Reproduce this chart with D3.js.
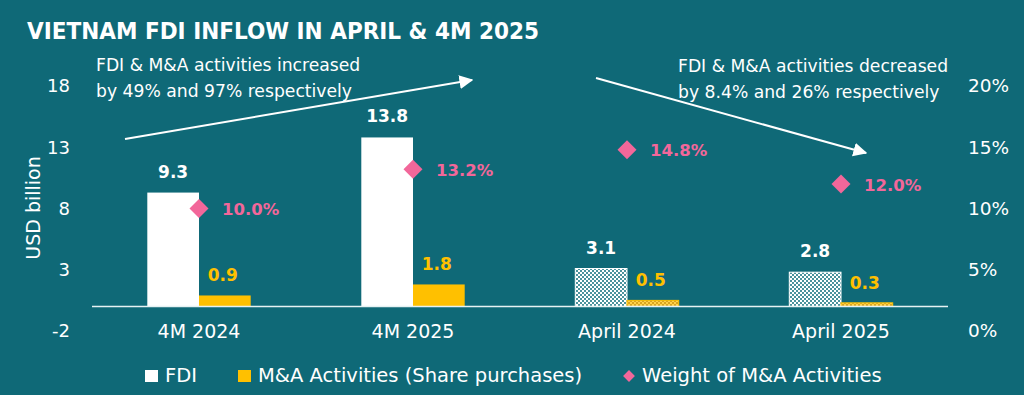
<!DOCTYPE html>
<html>
<head>
<meta charset="utf-8">
<script src="https://cdn.jsdelivr.net/npm/d3@7"></script>
<style>
  html, body { margin: 0; padding: 0; background: #0f6977; }
  svg { display: block; font-family: 'DejaVu Sans', sans-serif; }
</style>
</head>
<body>
<div id="chart"></div>
<script>
// chart data
const categories = ['4M 2024', '4M 2025', 'April 2024', 'April 2025'];
const fdiValues = [9.3, 13.8, 3.1, 2.8];
const maValues = [0.9, 1.8, 0.5, 0.3];
const weightValues = [0.100, 0.132, 0.148, 0.120];
const hatched = [false, false, true, true]; // April bars are drawn with a pattern
const leftTicks = [-2, 3, 8, 13, 18];
const rightTicks = [0, 0.05, 0.10, 0.15, 0.20];

const width = 1024;
const height = 395;
const bg = '#0f6977';
const yellow = '#ffc000';
const pink = '#f2679a';

const svg = d3.select('#chart').append('svg')
  .attr('width', width)
  .attr('height', height);

svg.append('rect').attr('width', width).attr('height', height).attr('fill', bg);

// patterns for the April bars
const defs = svg.append('defs');
function checker(id, base, dot) {
  const p = defs.append('pattern')
    .attr('id', id)
    .attr('width', 4).attr('height', 4)
    .attr('patternUnits', 'userSpaceOnUse');
  p.append('rect').attr('width', 4).attr('height', 4).attr('fill', base);
  p.append('rect').attr('width', 2).attr('height', 2).attr('fill', dot);
  p.append('rect').attr('x', 2).attr('y', 2).attr('width', 2).attr('height', 2).attr('fill', dot);
}
checker('fdiHatch', '#4a929c', '#ffffff');
checker('maHatch', '#d9a520', '#ffd24a');

// scales
const x = d3.scaleBand().domain(categories).range([92, 948]);
const y = d3.scaleLinear().domain([-2, 18]).range([331, 86]);
const yRight = d3.scaleLinear().domain([0, 0.20]).range([331, 86]);
const barW = 51.7;

// title
svg.append('text')
  .attr('x', 27).attr('y', 38.5)
  .attr('fill', '#fff')
  .attr('font-size', 23)
  .attr('font-weight', 'bold')
  .attr('textLength', 512)
  .attr('lengthAdjust', 'spacingAndGlyphs')
  .text('VIETNAM FDI INFLOW IN APRIL & 4M 2025');

// left axis
const leftAxis = svg.append('g')
  .attr('transform', 'translate(70,0)')
  .call(d3.axisLeft(y).tickValues(leftTicks).tickSize(0).tickPadding(0).tickFormat((d) => String(d)));
leftAxis.select('.domain').remove();
leftAxis.selectAll('text')
  .attr('fill', '#fff').attr('font-size', 18).attr('font-family', 'DejaVu Sans, sans-serif');

// right axis
const rightAxis = svg.append('g')
  .attr('transform', 'translate(968,0)')
  .call(d3.axisRight(yRight).tickValues(rightTicks).tickSize(0).tickPadding(0).tickFormat(d3.format('.0%')));
rightAxis.select('.domain').remove();
rightAxis.selectAll('text')
  .attr('fill', '#fff').attr('font-size', 18.5).attr('font-family', 'DejaVu Sans, sans-serif');

// y axis title
svg.append('text')
  .attr('transform', 'translate(40,208) rotate(-90)')
  .attr('text-anchor', 'middle')
  .attr('fill', '#fff')
  .attr('font-size', 19)
  .text('USD billion');

// FDI bars
svg.append('g').selectAll('rect')
  .data(fdiValues)
  .join('rect')
  .attr('x', (d, i) => x(categories[i]) + x.bandwidth() / 2 - barW)
  .attr('y', (d) => y(d))
  .attr('width', barW)
  .attr('height', (d) => y(0) - y(d))
  .attr('fill', (d, i) => (hatched[i] ? 'url(#fdiHatch)' : '#fff'))
  .attr('stroke', (d, i) => (hatched[i] ? '#fff' : 'none'))
  .attr('stroke-width', 1);

// M&A bars
svg.append('g').selectAll('rect')
  .data(maValues)
  .join('rect')
  .attr('x', (d, i) => x(categories[i]) + x.bandwidth() / 2)
  .attr('y', (d) => y(d))
  .attr('width', barW)
  .attr('height', (d) => y(0) - y(d))
  .attr('fill', (d, i) => (hatched[i] ? 'url(#maHatch)' : yellow))
  .attr('stroke', (d, i) => (hatched[i] ? yellow : 'none'))
  .attr('stroke-width', 1);

// baseline
svg.append('line')
  .attr('x1', 92).attr('x2', 948)
  .attr('y1', y(0)).attr('y2', y(0))
  .attr('stroke', '#e6f2f3')
  .attr('stroke-width', 1.5);

// value labels
svg.append('g').selectAll('text')
  .data(fdiValues)
  .join('text')
  .attr('x', (d, i) => x(categories[i]) + x.bandwidth() / 2 - barW / 2)
  .attr('y', (d) => y(d) - 15)
  .attr('text-anchor', 'middle')
  .attr('fill', '#fff')
  .attr('font-size', 17)
  .attr('font-weight', 'bold')
  .text((d) => d.toFixed(1));

svg.append('g').selectAll('text')
  .data(maValues)
  .join('text')
  .attr('x', (d, i) => x(categories[i]) + x.bandwidth() / 2 + barW / 2 - 2)
  .attr('y', (d) => y(d) - 14)
  .attr('text-anchor', 'middle')
  .attr('fill', yellow)
  .attr('font-size', 17)
  .attr('font-weight', 'bold')
  .text((d) => d.toFixed(1));

// weight markers
const diamond = d3.symbol().type(d3.symbolSquare).size(180);
svg.append('g').selectAll('path')
  .data(weightValues)
  .join('path')
  .attr('d', diamond)
  .attr('transform', (d, i) => `translate(${x(categories[i]) + x.bandwidth() / 2},${yRight(d)}) rotate(45)`)
  .attr('fill', pink);

svg.append('g').selectAll('text')
  .data(weightValues)
  .join('text')
  .attr('x', (d, i) => x(categories[i]) + x.bandwidth() / 2 + 23)
  .attr('y', (d) => yRight(d) + 6.5)
  .attr('fill', pink)
  .attr('font-size', 16.5)
  .attr('font-weight', 'bold')
  .text((d) => d3.format('.1%')(d));

// category labels
svg.append('g').selectAll('text')
  .data(categories)
  .join('text')
  .attr('x', (d) => x(d) + x.bandwidth() / 2)
  .attr('y', 338)
  .attr('text-anchor', 'middle')
  .attr('fill', '#fff')
  .attr('font-size', 19)
  .text((d) => d);

// annotations
const notes = [
  { x: 96, y: 71, lines: ['FDI & M&A activities increased', 'by 49% and 97% respectively'] },
  { x: 678, y: 72, lines: ['FDI & M&A activities decreased', 'by 8.4% and 26% respectively'] },
];
notes.forEach((n) => {
  const t = svg.append('text')
    .attr('fill', '#fff')
    .attr('font-size', 17.2);
  n.lines.forEach((l, i) => {
    t.append('tspan').attr('x', n.x).attr('y', n.y + i * 26).text(l);
  });
});

defs.append('marker')
  .attr('id', 'arrowHead')
  .attr('viewBox', '0 0 10 10')
  .attr('refX', 9).attr('refY', 5)
  .attr('markerWidth', 7).attr('markerHeight', 7)
  .attr('markerUnits', 'strokeWidth')
  .attr('orient', 'auto')
  .append('path')
  .attr('d', 'M0,0 L10,5 L0,10 Z')
  .attr('fill', '#fff');

const arrows = [
  [125, 139, 472, 80],
  [596, 78, 866, 153],
];
arrows.forEach((a) => {
  svg.append('line')
    .attr('x1', a[0]).attr('y1', a[1])
    .attr('x2', a[2]).attr('y2', a[3])
    .attr('stroke', '#fff')
    .attr('stroke-width', 2)
    .attr('marker-end', 'url(#arrowHead)');
});

// legend
const legend = svg.append('g').attr('font-size', 19.5).attr('fill', '#fff');
legend.append('rect').attr('x', 145).attr('y', 370).attr('width', 13).attr('height', 12).attr('fill', '#fff');
legend.append('text').attr('x', 165).attr('y', 382).text('FDI');
legend.append('rect').attr('x', 238).attr('y', 370).attr('width', 13).attr('height', 12).attr('fill', yellow);
legend.append('text').attr('x', 258).attr('y', 382).text('M&A Activities (Share purchases)');
legend.append('path')
  .attr('d', d3.symbol().type(d3.symbolSquare).size(70))
  .attr('transform', 'translate(629,376) rotate(45)')
  .attr('fill', pink);
legend.append('text').attr('x', 642).attr('y', 382).text('Weight of M&A Activities');
</script>
</body>
</html>
